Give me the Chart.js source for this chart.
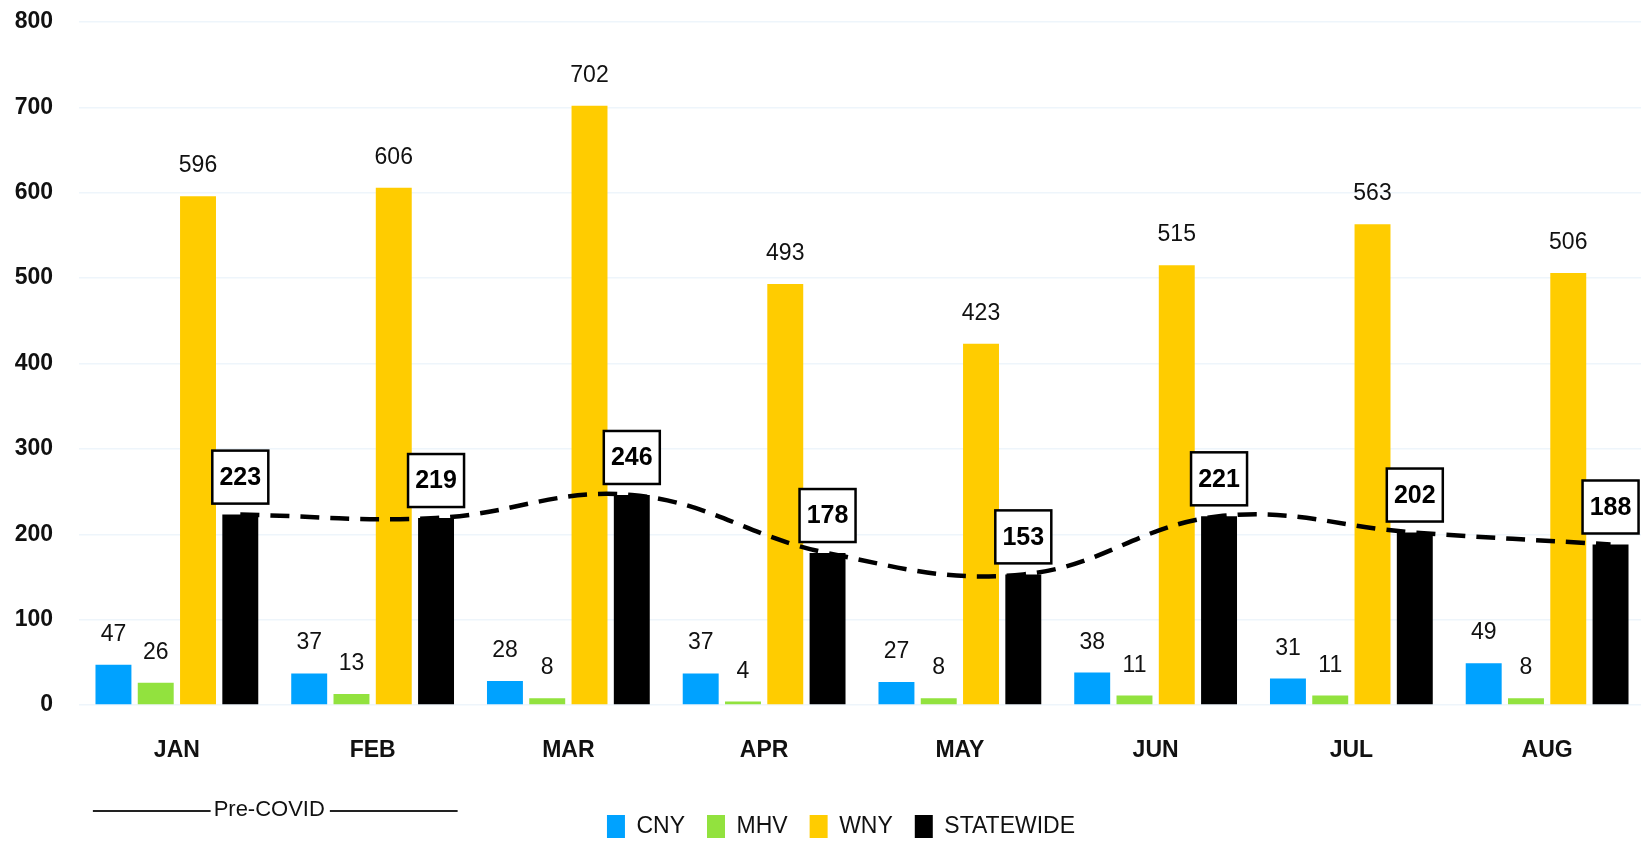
<!DOCTYPE html>
<html>
<head>
<meta charset="utf-8">
<script src="https://cdn.jsdelivr.net/npm/chart.js@4"></script>
<style>
    html, body { margin: 0; padding: 0; background: #fff; overflow: hidden; }
    #wrap { position: relative; width: 1646px; height: 848px; }
</style>
</head>
<body>
<div id="wrap"><canvas id="chart"></canvas></div>
<script>
// Chart data
const months = ['JAN', 'FEB', 'MAR', 'APR', 'MAY', 'JUN', 'JUL', 'AUG'];
const cny = [47, 37, 28, 37, 27, 38, 31, 49];
const mhv = [26, 13, 8, 4, 8, 11, 11, 8];
const wny = [596, 606, 702, 493, 423, 515, 563, 506];
const statewide = [223, 219, 246, 178, 153, 221, 202, 188];
const yTicks = [0, 100, 200, 300, 400, 500, 600, 700, 800];

const FONT = '"Liberation Sans", Arial, sans-serif';

// Value labels drawn above the bars, boxed for STATEWIDE
const valueLabels = {
    id: 'valueLabels',
    afterDatasetsDraw(chart) {
        const ctx = chart.ctx;
        ctx.save();
        ctx.textAlign = 'center';
        [0, 1, 2].forEach(di => {
            const meta = chart.getDatasetMeta(di);
            ctx.font = '23px ' + FONT;
            ctx.fillStyle = '#111';
            ctx.textBaseline = 'alphabetic';
            meta.data.forEach((bar, i) => {
                ctx.fillText(String(chart.data.datasets[di].data[i]), bar.x, bar.y - 24);
            });
        });
        const meta = chart.getDatasetMeta(3);
        meta.data.forEach((bar, i) => {
            const w = 56, h = 53;
            const bx = bar.x - w / 2, by = bar.y - 11 - h;
            ctx.fillStyle = '#fff';
            ctx.fillRect(bx, by, w, h);
            ctx.lineWidth = 2.5;
            ctx.strokeStyle = '#000';
            ctx.strokeRect(bx, by, w, h);
            ctx.fillStyle = '#000';
            ctx.font = 'bold 25px ' + FONT;
            ctx.textBaseline = 'middle';
            ctx.fillText(String(statewide[i]), bar.x, by + h / 2 + 1);
        });
        ctx.restore();
    }
};

// The dashed line runs through the tops of the STATEWIDE bars,
// so slide it sideways onto those bars while it is drawn
const lineOnBars = {
    id: 'lineOnBars',
    beforeDatasetDraw(chart, args) {
        if (args.index !== 4) return;
        const bars = chart.getDatasetMeta(3).data;
        const dx = bars[0].x - chart.scales.x.getPixelForValue(0);
        chart.ctx.save();
        chart.ctx.translate(dx, 0);
    },
    afterDatasetDraw(chart, args) {
        if (args.index !== 4) return;
        chart.ctx.restore();
    }
};

// legend is centred a little right of the canvas middle
const legendNudge = {
    id: 'legendNudge',
    afterLayout(chart) {
        if (chart.legend) chart.legend.left += 22;
    }
};

// "Pre-COVID" bracket under the first two months
const preCovid = {
    id: 'preCovid',
    afterDraw(chart) {
        const ctx = chart.ctx;
        const x = chart.scales.x;
        const left = x.getPixelForValue(0) - 84;
        const right = x.getPixelForValue(1) + 85;
        const y = chart.chartArea.bottom + 105;
        const mid = (left + right) / 2 - 6;
        ctx.save();
        ctx.font = '22px ' + FONT;
        ctx.textAlign = 'center';
        ctx.textBaseline = 'middle';
        ctx.fillStyle = '#111';
        const tw = ctx.measureText('Pre-COVID').width;
        ctx.fillText('Pre-COVID', mid, y);
        ctx.strokeStyle = '#222';
        ctx.lineWidth = 2;
        ctx.beginPath();
        ctx.moveTo(left, y + 1);
        ctx.lineTo(mid - tw / 2 - 3, y + 1);
        ctx.moveTo(mid + tw / 2 + 5, y + 1);
        ctx.lineTo(right, y + 1);
        ctx.stroke();
        ctx.restore();
    }
};

const barCommon = {
    categoryPercentage: 0.864,
    barPercentage: 0.85,
    borderWidth: 0,
    order: 2
};

new Chart(document.getElementById('chart').getContext('2d'), {
    type: 'bar',
    data: {
        labels: months,
        datasets: [
            { label: 'CNY', data: cny, backgroundColor: '#00A2FF', ...barCommon },
            { label: 'MHV', data: mhv, backgroundColor: '#92E23E', ...barCommon },
            { label: 'WNY', data: wny, backgroundColor: '#FFCC00', ...barCommon },
            { label: 'STATEWIDE', data: statewide, backgroundColor: '#000000', ...barCommon },
            {
                type: 'line',
                label: 'trend',
                data: statewide,
                borderColor: '#000',
                borderWidth: 4.5,
                borderDash: [19, 11],
                tension: 0.4,
                pointRadius: 0,
                fill: false,
                clip: false,
                order: 1
            }
        ]
    },
    options: {
        responsive: true,
        maintainAspectRatio: false,
        animation: false,
        layout: { padding: { left: 15, right: 1, top: 22, bottom: 0 } },
        plugins: {
            tooltip: { enabled: false },
            legend: {
                position: 'bottom',
                labels: {
                    filter: item => item.text !== 'trend',
                    boxWidth: 18,
                    boxHeight: 23,
                    padding: 22,
                    color: '#111',
                    font: { family: FONT, size: 23 }
                }
            }
        },
        scales: {
            x: {
                offset: true,
                grid: { display: false, drawTicks: false },
                border: { display: false },
                ticks: {
                    color: '#111',
                    padding: 32,
                    font: { family: FONT, size: 23, weight: 'bold' }
                },
                afterFit: scale => { scale.height = 88; }
            },
            y: {
                min: 0,
                max: 800,
                afterBuildTicks: scale => { scale.ticks = yTicks.map(v => ({ value: v })); },
                afterFit: scale => {
                    scale.width = 64;
                    scale.paddingTop = 0;
                },
                grid: { color: '#eef5fb', lineWidth: 1.5, drawTicks: false },
                border: { display: false },
                ticks: {
                    color: '#111',
                    padding: 26,
                    font: { family: FONT, size: 23, weight: 'bold' }
                }
            }
        }
    },
    plugins: [valueLabels, lineOnBars, legendNudge, preCovid]
});
</script>
</body>
</html>
